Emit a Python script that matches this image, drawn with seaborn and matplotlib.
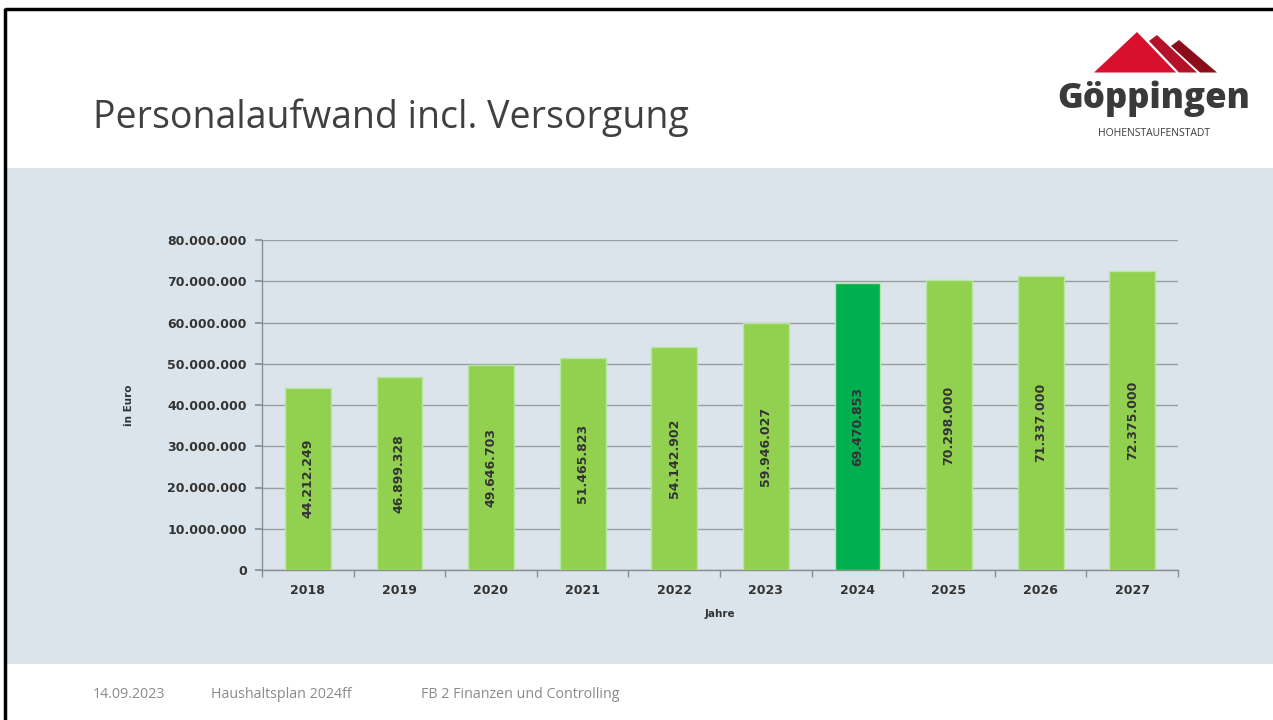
import numpy as np
import pandas as pd
import seaborn as sns
import matplotlib.pyplot as plt
from matplotlib.patches import Polygon, Rectangle
from matplotlib.ticker import FuncFormatter, FixedLocator

years = ["2018", "2019", "2020", "2021", "2022", "2023", "2024", "2025", "2026", "2027"]
values = [44212249, 46899328, 49646703, 51465823, 54142902, 59946027,
          69470853, 70298000, 71337000, 72375000]
highlight_year = "2024"

title = "Personalaufwand incl. Versorgung"
footer = ["14.09.2023", "Haushaltsplan 2024ff", "FB 2 Finanzen und Controlling"]

PANEL = "#dae4ea"
LIGHT = "#92d050"
DARK = "#00b050"


def fmt_de(v, pos=None):
    return f"{v:,.0f}".replace(",", ".")


sns.set_theme(style="white")
plt.rcParams["font.family"] = ["DejaVu Sans"]

fig = plt.figure(figsize=(12.73, 7.2), dpi=100)
fig.patch.set_facecolor("white")

# slide background drawn in pixel coordinates
bg = fig.add_axes([0, 0, 1, 1], zorder=0)
bg.set_xlim(0, 1273)
bg.set_ylim(720, 0)
bg.axis("off")
bg.add_patch(Rectangle((7, 168), 1266, 496, facecolor=PANEL, edgecolor="none"))
bg.plot([5, 1273], [9, 9], color="black", lw=2.5, solid_capstyle="butt")
bg.plot([5, 5], [8, 720], color="black", lw=2.5, solid_capstyle="butt")

bg.text(93, 128, title, fontsize=27, color="#404040", family="Open Sans",
        va="baseline", ha="left")

# logo
bg.add_patch(Polygon([(1137, 32), (1094, 72.5), (1176, 72.5)], closed=True,
                     facecolor="#d7102e", edgecolor="none"))
bg.add_patch(Polygon([(1149, 41), (1157, 35), (1197, 72.5), (1179, 72.5)], closed=True,
                     facecolor="#b5122a", edgecolor="none"))
bg.add_patch(Polygon([(1171, 46), (1179, 40), (1217, 72.5), (1200, 72.5)], closed=True,
                     facecolor="#8b0d1a", edgecolor="none"))
bg.text(1154, 108, "Göppingen", fontsize=25, fontweight=800, color="#3a3a3a",
        family="Open Sans", ha="center", va="baseline")
bg.text(1154, 134, "HOHENSTAUFENSTADT", fontsize=7.5, color="#3a3a3a",
        family="Open Sans", ha="center", va="center")

for txt, x in zip(footer, [93, 211, 421]):
    bg.text(x, 694, txt, fontsize=10.3, color="#8a8a8a", family="Open Sans",
            ha="left", va="center")

# chart
ax = fig.add_axes([262 / 1273, 1 - 570 / 720, (1178 - 262) / 1273, 330 / 720], zorder=1)
ax.set_facecolor(PANEL)

df = pd.DataFrame({"Jahr": years, "Wert": values})
palette = {y: (DARK if y == highlight_year else LIGHT) for y in years}
sns.barplot(data=df, x="Jahr", y="Wert", hue="Jahr", palette=palette, legend=False,
            width=0.5, edgecolor="#b5e8a0", linewidth=1, saturation=1, ax=ax, zorder=3)

ax.set_ylim(0, 80000000)
ax.set_xlim(-0.5, len(years) - 0.5)
ax.set_yticks(np.arange(0, 80000001, 10000000))
ax.yaxis.set_major_formatter(FuncFormatter(fmt_de))
ax.grid(axis="y", color="#9a9ea2", lw=1, zorder=0)
ax.set_axisbelow(True)

for s in ["top", "right"]:
    ax.spines[s].set_visible(False)
for s in ["left", "bottom"]:
    ax.spines[s].set_color("#8a8e92")
    ax.spines[s].set_linewidth(1)

ax.tick_params(axis="y", which="major", length=5, color="#8a8e92", labelsize=9,
               labelcolor="#333333", left=True, pad=6)
ax.tick_params(axis="x", which="major", length=0, labelsize=9, labelcolor="#333333", pad=10)
ax.xaxis.set_minor_locator(FixedLocator(np.arange(-0.5, len(years), 1.0)))
ax.tick_params(axis="x", which="minor", length=5, color="#8a8e92", bottom=True)
for lab in ax.get_xticklabels() + ax.get_yticklabels():
    lab.set_fontweight("bold")

ax.set_xlabel("Jahre", fontsize=7.5, fontweight="bold", color="#333333", labelpad=9)
ax.set_ylabel("in Euro", fontsize=7.5, fontweight="bold", color="#333333", labelpad=24)

for i, v in enumerate(values):
    ax.text(i, v / 2, fmt_de(v), rotation=90, ha="center", va="center",
            fontsize=9, fontweight="bold", color="#333333", zorder=4)

fig.savefig("out.png", dpi=100, facecolor="white")
